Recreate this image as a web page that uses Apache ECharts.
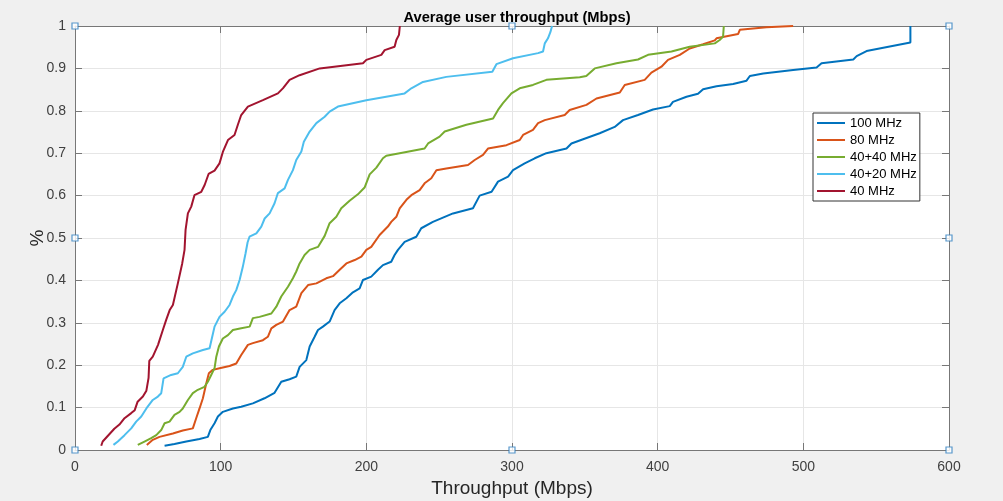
<!DOCTYPE html>
<html>
<head>
<meta charset="utf-8">
<script src="https://cdn.jsdelivr.net/npm/echarts@6/dist/echarts.min.js"></script>
<style>
  html, body { margin: 0; padding: 0; background: #f0f0f0; }
  #chart { width: 1003px; height: 501px; }
</style>
</head>
<body>
<div id="chart"></div>
<script>
// CDF points [throughput Mbps, fraction]
const mhz100 = [
  [61.5,0.01],[68.3,0.014],[76.4,0.02],[85.5,0.026],[91.2,0.031],[92.9,0.047],[95.8,0.063],[98.1,0.079],
  [101.5,0.09],[108.4,0.098],[114.1,0.102],[122.1,0.11],[130.1,0.122],[137,0.135],[141.6,0.161],[147.3,0.167],
  [151.9,0.173],[154.2,0.196],[158.8,0.212],[161.1,0.244],[164.5,0.267],[166.8,0.283],[170.2,0.291],[174.8,0.303],
  [178.2,0.33],[181.7,0.346],[186.3,0.358],[190.8,0.372],[195.4,0.381],[197.7,0.401],[203.4,0.409],[208,0.425],
  [211.4,0.436],[217.1,0.444],[219.4,0.46],[221.7,0.472],[226.3,0.491],[234.3,0.503],[237.7,0.523],[245.7,0.538],
  [252.6,0.548],[259.5,0.558],[273.2,0.57],[277.8,0.6],[286,0.609],[290.4,0.633],[297.3,0.645],[300.7,0.66],
  [308.7,0.676],[315.6,0.688],[323.6,0.7],[337.4,0.711],[340.8,0.723],[348.8,0.733],[360.2,0.747],[370.5,0.762],
  [376.2,0.778],[386.5,0.79],[396.8,0.803],[408.3,0.811],[410.5,0.821],[419.8,0.833],[427.7,0.84],[431.2,0.851],
  [440.4,0.858],[451.8,0.863],[461,0.871],[463.3,0.882],[472.5,0.888],[493,0.896],[509.1,0.902],[512.5,0.912],
  [534.3,0.921],[536.6,0.929],[543.4,0.941],[573.5,0.961],[573.5,1.0]
];
const mhz80 = [
  [49.3,0.012],[53.4,0.024],[58,0.031],[67.2,0.039],[74,0.046],[80.9,0.051],[83.2,0.075],[85.5,0.098],
  [87.8,0.122],[90.1,0.157],[91.9,0.181],[94.6,0.189],[99.2,0.193],[106.1,0.198],[110.7,0.204],[114.1,0.224],
  [118.7,0.248],[122.1,0.252],[129,0.259],[132.4,0.267],[134.8,0.287],[138.2,0.295],[142.8,0.303],[147.3,0.33],
  [151.9,0.338],[155.4,0.37],[160,0.389],[165.7,0.393],[172.5,0.405],[177.1,0.41],[181.7,0.425],[186.3,0.44],
  [192,0.448],[196.6,0.456],[200,0.472],[203.4,0.479],[209.1,0.507],[214.8,0.527],[217.1,0.538],[220.6,0.55],
  [222.9,0.57],[227.5,0.59],[230.9,0.601],[236.6,0.613],[240,0.629],[244.6,0.641],[248.1,0.66],[254.9,0.664],
  [269.8,0.672],[274.4,0.684],[280.1,0.696],[283.5,0.711],[296.2,0.719],[305.3,0.731],[307.6,0.743],[314.4,0.755],
  [317.9,0.771],[322.5,0.778],[336.2,0.79],[339.6,0.802],[351.1,0.814],[358,0.829],[374,0.843],[377.4,0.861],
  [391.1,0.873],[395.7,0.89],[402.6,0.904],[407.1,0.92],[415.2,0.932],[422,0.947],[431.2,0.957],[439.2,0.966],
  [440.4,0.971],[455.2,0.981],[456.4,0.991],[474.7,0.997],[493,1.0]
];
const mhz40p40 = [
  [43.1,0.012],[47.7,0.02],[52.3,0.028],[55.8,0.035],[59.2,0.047],[61.5,0.063],[64.9,0.067],[68.3,0.083],
  [71.8,0.09],[74,0.098],[77.5,0.118],[80.9,0.134],[84.3,0.142],[88.9,0.149],[91.2,0.161],[93.5,0.177],
  [95.8,0.193],[97,0.22],[98.8,0.244],[101.5,0.263],[105,0.271],[108.4,0.283],[114.1,0.287],[119.9,0.291],
  [122.1,0.311],[126.7,0.314],[134.8,0.322],[138.2,0.338],[141.6,0.362],[146.2,0.385],[149.6,0.405],[151.9,0.421],
  [154.2,0.44],[157.6,0.46],[161.1,0.472],[166.8,0.479],[171.4,0.505],[174.8,0.535],[179.4,0.55],[182.8,0.57],
  [188.5,0.588],[194.2,0.603],[198.8,0.619],[202.3,0.65],[206.9,0.666],[211.4,0.688],[213.7,0.694],[222.9,0.7],
  [240,0.711],[242.4,0.723],[250.3,0.739],[253.8,0.751],[268.7,0.767],[287,0.782],[290.4,0.802],[293.8,0.818],
  [299.6,0.841],[305.3,0.853],[314.4,0.861],[323.6,0.873],[337.4,0.877],[346.5,0.879],[351,0.882],[356.8,0.9],
  [371.7,0.912],[386.5,0.921],[393.4,0.932],[409.5,0.94],[422,0.951],[439.2,0.959],[442.6,0.967],[444.9,0.975],
  [445.4,1.0]
];
const mhz40p20 = [
  [26.4,0.012],[29.4,0.02],[34,0.035],[38.6,0.051],[42,0.067],[45.5,0.079],[49,0.098],[53.4,0.118],
  [56.9,0.126],[59.2,0.134],[60.8,0.169],[66,0.177],[70.6,0.181],[74,0.196],[76.4,0.22],[80.9,0.228],
  [87.8,0.236],[92.4,0.24],[94.2,0.267],[95.8,0.291],[99.2,0.314],[102.7,0.326],[106.1,0.342],[108.4,0.362],
  [110.7,0.377],[113,0.401],[115.2,0.432],[117.1,0.464],[118.5,0.49],[119.8,0.503],[124.5,0.511],[127.9,0.527],
  [130.2,0.546],[133.6,0.558],[137,0.582],[139.3,0.606],[143.9,0.617],[146.2,0.637],[149.6,0.66],[151.9,0.684],
  [155.4,0.704],[157.1,0.727],[161.1,0.751],[165.7,0.771],[171.4,0.786],[174.8,0.798],[180.5,0.81],[200,0.825],
  [226.3,0.841],[230.9,0.853],[238.9,0.868],[254.9,0.88],[286.5,0.892],[289.3,0.91],[300.7,0.924],[317.9,0.936],
  [321.3,0.94],[322.5,0.959],[324.7,0.971],[326.4,0.986],[327.5,1.0]
];
const mhz40 = [
  [18,0.01],[19,0.02],[27,0.05],[30.5,0.06],[34,0.075],[38.6,0.087],[41,0.094],[43,0.114],
  [46.6,0.126],[49,0.14],[50.5,0.17],[51,0.21],[53.4,0.22],[57,0.248],[60.3,0.283],[62.6,0.307],
  [65,0.33],[67.2,0.342],[70.6,0.393],[73.6,0.44],[75.2,0.472],[75.9,0.519],[77.5,0.558],[79.8,0.574],
  [82,0.601],[86.7,0.609],[89,0.625],[91.7,0.651],[95.8,0.659],[99.2,0.676],[101.5,0.703],[105,0.731],
  [109.5,0.743],[111.8,0.767],[114.1,0.79],[118.7,0.81],[129,0.825],[139.3,0.841],[142.7,0.853],[147.3,0.873],
  [154.2,0.884],[168,0.9],[197.7,0.912],[200,0.92],[210.3,0.932],[212.6,0.943],[219.4,0.951],[220.6,0.967],
  [222.4,0.979],[223,1.0]
];
const seriesNames = ['100 MHz', '80 MHz', '40+40 MHz', '40+20 MHz', '40 MHz'];
const seriesColors = ['#0072BD', '#D95319', '#77AC30', '#4DBEEE', '#A2142F'];
// little square handles on the axes box
const handlePts = [[0,0],[0,0.5],[0,1],[300,1],[600,1],[600,0.5],[600,0],[300,0]];

var echart = echarts.init(document.getElementById('chart'))
var allData = [mhz100, mhz80, mhz40p40, mhz40p20, mhz40]
var fontName = 'Arial, Liberation Sans'

var lines = allData.map(function (d, i) {
    return {
        name: seriesNames[i],
        type: 'line',
        showSymbol: false,
        symbol: 'none',
        lineStyle: { color: seriesColors[i], width: 2 },
        itemStyle: { color: seriesColors[i] },
        z: 3 + i,
        data: d
    }
})

// box axes (top / right) with inward ticks only
function boxAxis(pos, max, interval) {
    return {
        type: 'value',
        position: pos,
        min: 0,
        max: max,
        interval: interval,
        axisLine: { show: true, onZero: false, lineStyle: { color: '#777', width: 1 } },
        axisTick: { show: true, inside: true, length: 7, lineStyle: { color: '#777' } },
        axisLabel: { show: false },
        splitLine: { show: false }
    }
}

var option = {
    backgroundColor: '#f0f0f0',
    animation: false,
    title: {
        text: 'Average user throughput (Mbps)',
        left: 512,
        textAlign: 'center',
        top: 5,
        textStyle: { fontSize: 14.7, fontWeight: 'bold', color: '#000', fontFamily: fontName }
    },
    grid: {
        show: true,
        backgroundColor: '#fff',
        borderWidth: 0,
        left: 75,
        right: 54,
        top: 26,
        bottom: 51,
        outerBoundsMode: 'none'
    },
    legend: {
        data: seriesNames,
        orient: 'vertical',
        left: 813,
        top: 113,
        icon: 'rect',
        itemWidth: 28,
        itemHeight: 2,
        itemGap: 3,
        padding: [3, 3, 3, 4],
        backgroundColor: '#fff',
        borderColor: '#333',
        borderWidth: 1,
        borderRadius: 0,
        textStyle: { fontSize: 13, color: '#000', lineHeight: 14, fontFamily: fontName }
    },
    xAxis: [{
        type: 'value',
        min: 0,
        max: 600,
        interval: 100,
        name: 'Throughput (Mbps)',
        nameLocation: 'middle',
        nameGap: 29,
        nameMoveOverlap: false,
        nameTextStyle: { fontSize: 19, color: '#262626', fontFamily: fontName },
        axisLine: { show: true, onZero: false, lineStyle: { color: '#777', width: 1 } },
        axisTick: { show: true, inside: true, length: 7, lineStyle: { color: '#777' } },
        axisLabel: { fontSize: 14, color: '#404040', margin: 10, fontFamily: fontName },
        splitLine: { show: true, lineStyle: { color: '#e6e6e6', width: 1 } }
    }, boxAxis('top', 600, 100)],
    yAxis: [{
        type: 'value',
        min: 0,
        max: 1,
        interval: 0.1,
        name: '%',
        nameLocation: 'middle',
        nameGap: 28,
        nameMoveOverlap: false,
        nameTextStyle: { fontSize: 19, color: '#262626', fontFamily: fontName },
        axisLine: { show: true, onZero: false, lineStyle: { color: '#777', width: 1 } },
        axisTick: { show: true, inside: true, length: 7, lineStyle: { color: '#777' } },
        axisLabel: { fontSize: 14, color: '#404040', margin: 9, fontFamily: fontName },
        splitLine: { show: true, lineStyle: { color: '#e6e6e6', width: 1 } }
    }, boxAxis('right', 1, 0.1)],
    series: lines.concat([{
        name: 'handles',
        type: 'scatter',
        silent: true,
        symbol: 'rect',
        symbolSize: 6,
        itemStyle: { color: '#fff', borderColor: '#2f7fc1', borderWidth: 1.2 },
        z: 20,
        data: handlePts
    }])
};
echart.setOption(option)
</script>
</body>
</html>
